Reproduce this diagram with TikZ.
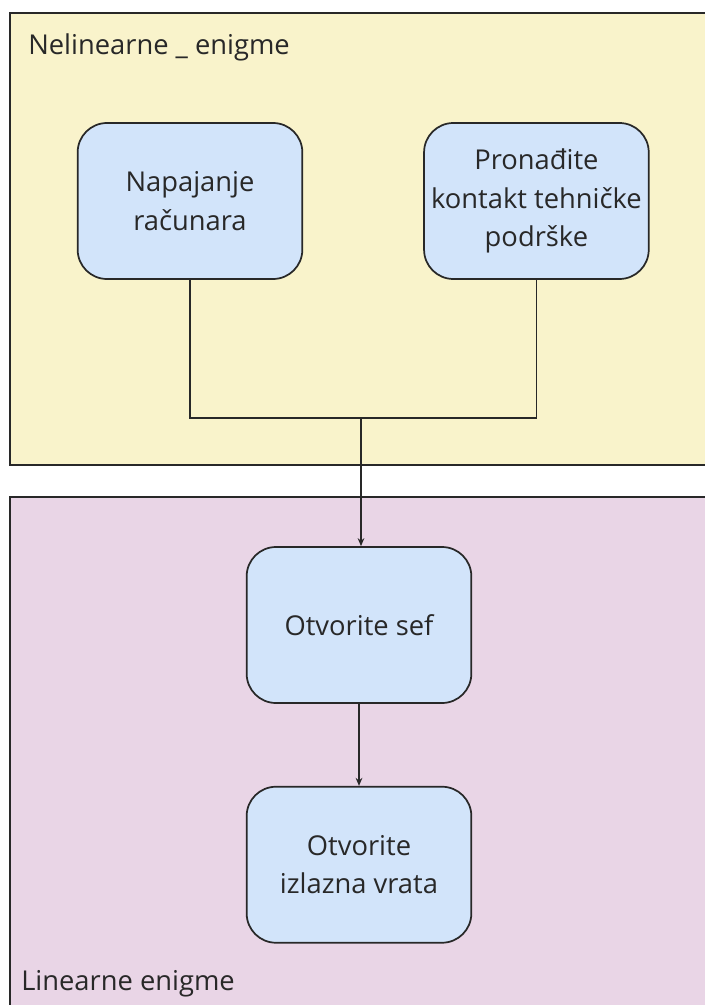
\documentclass[tikz,border=0pt]{standalone}
\usepackage{fontspec}
\setmainfont{Open Sans}
\usetikzlibrary{arrows.meta,positioning}

\definecolor{nonlinfill}{RGB}{249,243,203}
\definecolor{linfill}{RGB}{233,213,230}
\definecolor{taskfill}{RGB}{210,228,250}
\definecolor{inkline}{RGB}{40,40,40}

\begin{document}
\begin{tikzpicture}[
  x=0.75pt,y=-0.75pt,
  node distance=61.5pt,
  zone/.style={draw=inkline,line width=1.2pt},
  task/.style={draw=inkline,fill=taskfill,rounded corners=22pt,line width=1.3pt,align=center,minimum width=168.5pt,minimum height=117pt,inner sep=2pt,text=inkline,font=\fontsize{20.5}{29}\selectfont},
  flow/.style={-{Stealth[length=6pt,width=5pt]},line width=1.2pt,inkline},
  link/.style={line width=1.2pt,inkline},
  zone label/.style={anchor=base west,inner sep=0pt,text=inkline,font=\fontsize{20.5}{29}\selectfont}
]
\useasboundingbox (0,0) rectangle (704,1005);
\fill[white] (0,0) rectangle (704,1005);
\draw[zone,fill=nonlinfill] (10,13) rectangle (720,465);
\draw[zone,fill=linfill] (10,497) rectangle (720,1020);
\node[zone label] (t0) at (28,55) {Nelinearne \_ enigme};
\node[zone label] (t1) at (21,990) {Linearne enigme};

\node[task] (n1) at (190,201) {Napajanje\\računara};
\node[task,right=90pt of n1] (n2) {Pronađite\\kontakt tehničke\\podrške};
\node[task] (n3) at (359,625) {Otvorite sef};
\node[task,below=of n3] (n4) {Otvorite\\izlazna vrata};

\coordinate (join) at (361,418);
\draw[link] (n1.south) |- (join) -| (n2.south);
\draw[flow] (join) -- (join |- n3.north);
\draw[flow] (n3) -- (n4);
\end{tikzpicture}
\end{document}
